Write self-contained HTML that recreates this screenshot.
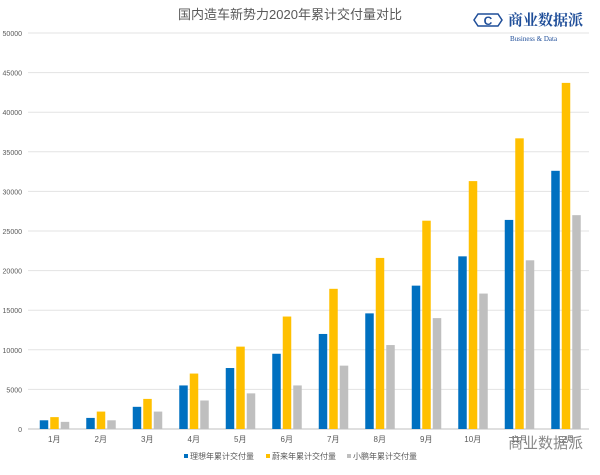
<!DOCTYPE html>
<html><head><meta charset="utf-8"><style>
body{margin:0;background:#fff;font-family:"Liberation Sans","Noto Sans CJK SC",sans-serif;}
</style></head><body>
<svg id="c" width="600" height="470" xmlns="http://www.w3.org/2000/svg">
<text x="290" y="19" text-anchor="middle" font-size="13" fill="#595959" font-family="Liberation Sans, Noto Sans CJK SC, sans-serif">国内造车新势力2020年累计交付量对比</text>
<g id="grid"></g><g id="bars"></g><g id="xl"></g>
<g>
<path d="M478 14 L498 14 L502 20 L498 26 L478 26 L474 20 Z" fill="none" stroke="#1f4e99" stroke-width="1.5"/>
<text x="488" y="25" text-anchor="middle" font-size="12" font-weight="bold" fill="#1f4e99">C</text>
<text x="508" y="25" font-size="15" font-weight="bold" fill="#1f4e99" font-family="Noto Serif CJK SC, serif">商业数据派</text>
<text x="510" y="41" font-size="7" fill="#1f4e99" font-family="Liberation Serif, serif">Business &amp; Data</text>
</g>
<g font-size="8" fill="#595959">
<rect x="184" y="454" width="4" height="4" fill="#0070c0"/><text x="190" y="459">理想年累计交付量</text>
<rect x="266" y="454" width="4" height="4" fill="#ffc000"/><text x="272" y="459">蔚来年累计交付量</text>
<rect x="347" y="454" width="4" height="4" fill="#bfbfbf"/><text x="353" y="459">小鹏年累计交付量</text>
</g>
<text x="508" y="448" font-size="15" fill="#888">商业数据派</text>
</svg>
<script>
const categories=["1月","2月","3月","4月","5月","6月","7月","8月","9月","10月","11月","12月"];
const liAuto=[1100,1400,2800,5500,7700,9500,12000,14600,18100,21800,26400,32600];
const nio=[1500,2200,3800,7000,10400,14200,17700,21600,26300,31300,36700,43700];
const xpeng=[900,1100,2200,3600,4500,5500,8000,10600,14000,17100,21300,27000];
const yTicks=[0,5000,10000,15000,20000,25000,30000,35000,40000,45000,50000];
const NS="http://www.w3.org/2000/svg";
const x0=31,x1=589,y0=429,yTop=33;
const y=v=>y0-(v/50000)*(y0-yTop);
const bw=(x1-x0)/categories.length;
function mk(t,a,p){const e=document.createElementNS(NS,t);for(const k in a)e.setAttribute(k,a[k]);p.appendChild(e);return e;}
const grid=document.getElementById('grid');
yTicks.forEach(v=>{
 const l=mk('line',{x1:x0-3,x2:x1,y1:y(v),y2:y(v),stroke:v===0?'#bfbfbf':'#e3e3e3','stroke-width':1},grid);
 
 
 const t=mk('text',{x:22,y:y(v)+3,'text-anchor':'end','font-size':7,fill:'#595959'},grid);
 t.textContent=v;
 
 
});
const bars=document.getElementById('bars');
const series=[[liAuto,'#0070c0'],[nio,'#ffc000'],[xpeng,'#bfbfbf']];
categories.forEach((c,i)=>{
 const cx=x0+bw*(i+0.5);
 series.forEach((s,j)=>{
  const v=s[0][i];
  const r=mk('rect',{x:cx-14.5+j*10.5,y:y(v),width:8.5,height:y0-y(v),fill:s[1]},bars);
  
  
 });
 const t=mk('text',{x:cx,y:442,'text-anchor':'middle','font-size':8,fill:'#595959'},document.getElementById('xl'));
 t.textContent=c;
 
 
});
</script>
</body></html>
